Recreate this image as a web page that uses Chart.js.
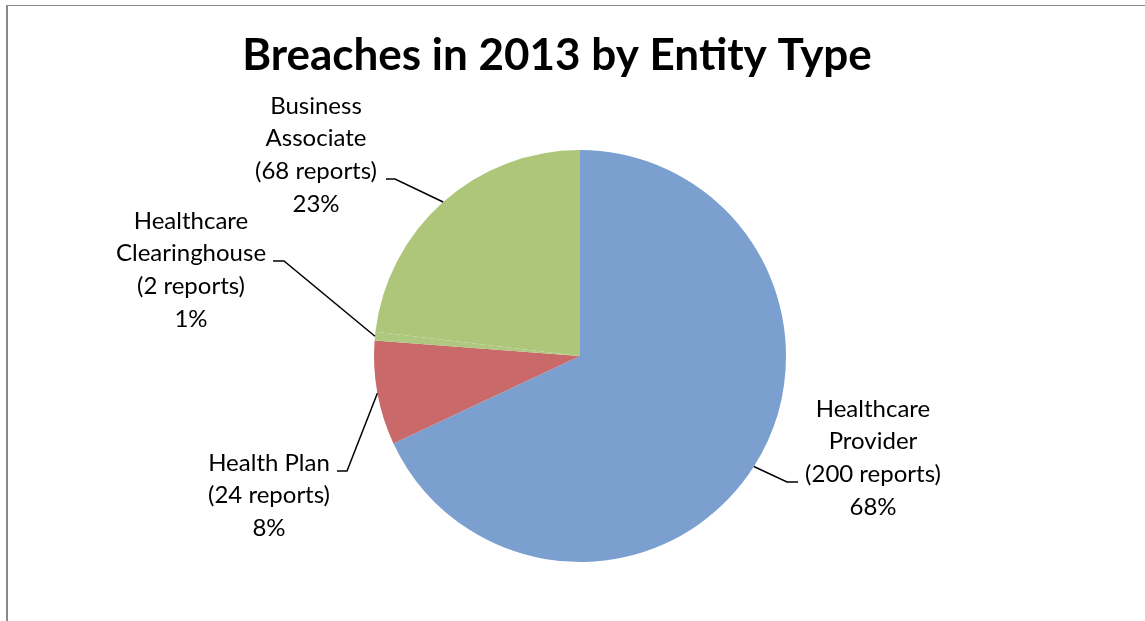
<!DOCTYPE html>
<html>
<head>
<meta charset="utf-8">
<script src="https://cdn.jsdelivr.net/npm/chart.js@4/dist/chart.umd.min.js"></script>
<style>
  html, body { margin: 0; padding: 0; background: #fff; overflow: hidden; }
  #wrap { position: relative; width: 1145px; height: 621px; }
  #frame { position: absolute; left: 6px; top: 5px; right: 0; bottom: 0;
           border-left: 2px solid #898989; border-top: 1px solid #898989; pointer-events: none; }
  canvas { position: absolute; left: 0; top: 0; }
</style>
</head>
<body>
<div id="wrap">
  <canvas id="chart" width="1145" height="621"></canvas>
  <div id="frame"></div>
</div>
<script>
// Breach reports filed in 2013, grouped by entity type
const chartTitle = 'Breaches in 2013 by Entity Type';
const categories = [['Healthcare', 'Provider'], ['Health Plan'], ['Healthcare', 'Clearinghouse'], ['Business', 'Associate']];
const reports = [200, 24, 2, 68];
const sliceColors = ['#7BA0CF', '#C9696A', '#AFC87F', '#ADC67A'];

// label placement: centre x, first line centre y, and the two leader points near the text
const labelPlacement = [
  { x: 873, y: 409, leader: [[798, 482], [787, 482]] },
  { x: 269, y: 463, leader: [[337, 471], [347, 471]] },
  { x: 191, y: 221, leader: [[273, 261], [284, 261]] },
  { x: 316, y: 106, leader: [[386, 179], [395, 179]] }
];
const LABEL_FONT = '24px Lato, "Open Sans", sans-serif';
const LINE_STEP = 32.6;

const total = reports.reduce((a, b) => a + b, 0);

const calloutPlugin = {
  id: 'callouts',
  afterDraw(chart) {
    const ctx = chart.ctx;
    ctx.save();
    // title
    ctx.fillStyle = '#000';
    ctx.font = 'bold 44px Lato, "Open Sans", sans-serif';
    ctx.textAlign = 'center';
    ctx.textBaseline = 'middle';
    ctx.fillText(chartTitle, 557, 56);

    const meta = chart.getDatasetMeta(0);
    meta.data.forEach((arc, i) => {
      const p = arc.getProps(['x', 'y', 'startAngle', 'endAngle', 'outerRadius'], true);
      const mid = (p.startAngle + p.endAngle) / 2;
      const ex = p.x + Math.cos(mid) * p.outerRadius;
      const ey = p.y + Math.sin(mid) * p.outerRadius;
      const place = labelPlacement[i];

      // leader line
      ctx.strokeStyle = '#000';
      ctx.lineWidth = 1.5;
      ctx.beginPath();
      ctx.moveTo(place.leader[0][0], place.leader[0][1]);
      ctx.lineTo(place.leader[1][0], place.leader[1][1]);
      ctx.lineTo(ex, ey);
      ctx.stroke();

      // label text
      const lines = [...categories[i], '(' + reports[i] + ' reports)', Math.round(reports[i] / total * 100) + '%'];
      ctx.font = LABEL_FONT;
      ctx.fillStyle = '#000';
      ctx.textAlign = 'center';
      ctx.textBaseline = 'middle';
      lines.forEach((t, k) => ctx.fillText(t, place.x, place.y + k * LINE_STEP));
    });
    ctx.restore();
  }
};

new Chart(document.getElementById('chart'), {
  type: 'pie',
  data: {
    labels: categories.map(c => c.join(' ')),
    datasets: [{
      data: reports,
      backgroundColor: sliceColors,
      borderWidth: 0
    }]
  },
  options: {
    responsive: false,
    animation: false,
    layout: { padding: { top: 150, left: 374, right: 359, bottom: 59 } },
    plugins: {
      legend: { display: false },
      title: { display: false },
      tooltip: { enabled: false }
    }
  },
  plugins: [calloutPlugin]
});
</script>
</body>
</html>
